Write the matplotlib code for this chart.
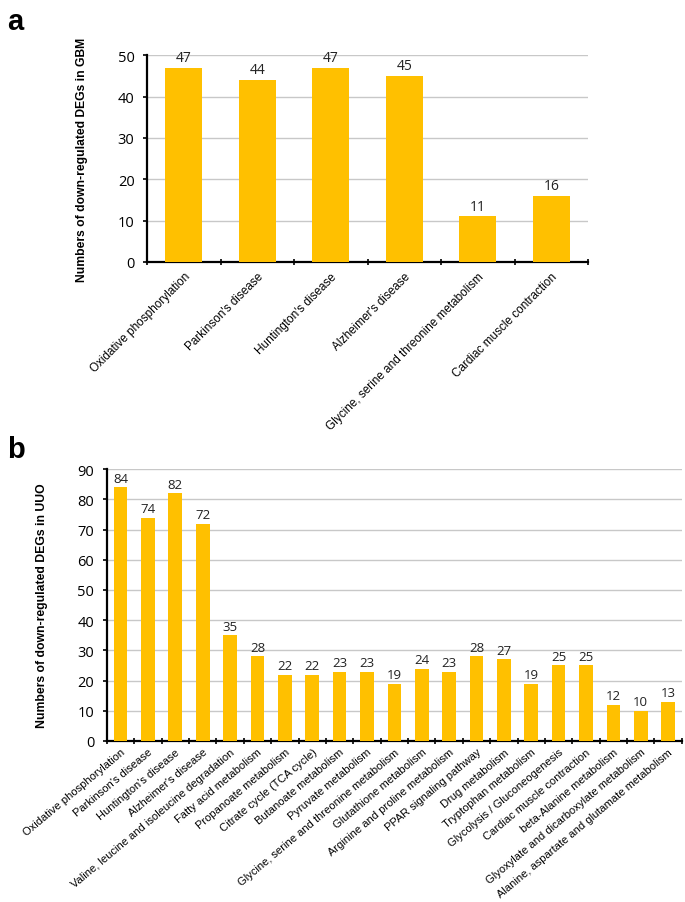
import matplotlib
matplotlib.use("Agg")
import matplotlib.pyplot as plt
import numpy as np

gbm_pathways = ["Oxidative phosphorylation", "Parkinson's disease", "Huntington's disease",
                "Alzheimer's disease", "Glycine, serine and threonine metabolism",
                "Cardiac muscle contraction"]
gbm_counts = [47, 44, 47, 45, 11, 16]

uuo_pathways = ["Oxidative phosphorylation", "Parkinson's disease", "Huntington's disease",
                "Alzheimer's disease", "Valine, leucine and isoleucine degradation",
                "Fatty acid metabolism", "Propanoate metabolism", "Citrate cycle (TCA cycle)",
                "Butanoate metabolism", "Pyruvate metabolism",
                "Glycine, serine and threonine metabolism", "Glutathione metabolism",
                "Arginine and proline metabolism", "PPAR signaling pathway", "Drug metabolism",
                "Tryptophan metabolism", "Glycolysis / Gluconeogenesis",
                "Cardiac muscle contraction", "beta-Alanine metabolism",
                "Glyoxylate and dicarboxylate metabolism",
                "Alanine, aspartate and glutamate metabolism"]
uuo_counts = [84, 74, 82, 72, 35, 28, 22, 22, 23, 23, 19, 24, 23, 28, 27, 19, 25, 25, 12, 10, 13]

BAR_COLOR = "#FFC000"
NUM_FONT = "Open Sans"
LABEL_FONT = "Liberation Sans"


def draw_panel(ax, names, counts, ymax, ylabel, tick_size, val_size, cat_size, lab_size, rot,
               cat_pad):
    x = np.arange(len(names))
    bars = ax.bar(x, counts, width=0.5, color=BAR_COLOR, zorder=3)
    ax.bar_label(bars, padding=2, fontsize=val_size, family=NUM_FONT, color="#222222")
    ax.set_xlim(-0.5, len(names) - 0.5)
    ax.set_ylim(0, ymax)
    ax.set_yticks(np.arange(0, ymax + 1, 10))
    ax.yaxis.grid(True, color="#c8c8c8", linewidth=1.0, zorder=0)
    ax.set_axisbelow(True)
    for side in ("top", "right"):
        ax.spines[side].set_visible(False)
    ax.spines["left"].set_linewidth(1.6)
    ax.spines["bottom"].set_linewidth(1.6)
    ax.tick_params(axis="y", length=3, width=1.2, pad=6, labelsize=tick_size)
    for lab in ax.get_yticklabels():
        lab.set_family(NUM_FONT)
    ax.set_xticks(x)
    ax.set_xticklabels(names, rotation=rot, ha="right", rotation_mode="anchor",
                       fontsize=cat_size, family=LABEL_FONT)
    ax.tick_params(axis="x", which="major", length=0, pad=cat_pad)
    ax.set_xticks(np.arange(len(names) + 1) - 0.5, minor=True)
    ax.tick_params(axis="x", which="minor", direction="inout", length=5, width=1.2)
    ax.set_ylabel(ylabel, fontsize=lab_size, family=LABEL_FONT, fontweight="bold")
    ax.yaxis.set_label_coords(-59 / (ax.get_position().width * 685), 0.5)


fig = plt.figure(figsize=(6.85, 9.03), dpi=100)
ax_a = fig.add_axes([0.2146, 0.7088, 0.644, 0.229])
ax_b = fig.add_axes([0.156, 0.1783, 0.8394, 0.301])

draw_panel(ax_a, gbm_pathways, gbm_counts, 50, "Numbers of down-regulated DEGs in GBM",
           10.5, 10, 8.5, 8.7, 45, 6)
draw_panel(ax_b, uuo_pathways, uuo_counts, 90, "Numbers of down-regulated DEGs in UUO",
           10.5, 9.5, 8.0, 8.8, 40, 4)

fig.text(0.01, 0.976, "a", fontsize=21, fontweight="bold", family=LABEL_FONT, va="center")
fig.text(0.01, 0.502, "b", fontsize=21, fontweight="bold", family=LABEL_FONT, va="center")

fig.savefig("out.png", dpi=100, facecolor="white")
